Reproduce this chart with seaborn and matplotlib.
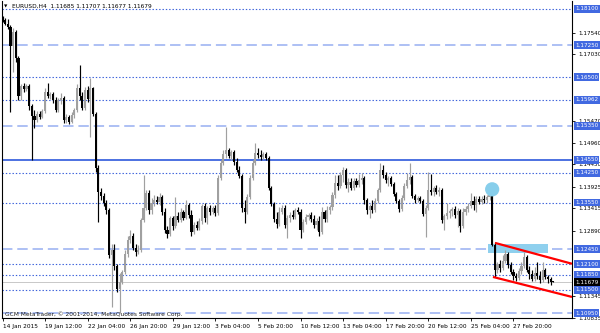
import numpy as np
import pandas as pd
import matplotlib
matplotlib.use("Agg")
import matplotlib.pyplot as plt
import seaborn as sns

# ---- data: EURUSD H4 candles ----
opens = [
    1.1789,1.1784,1.1775,1.1768,1.1723,1.1756,1.1695,1.1605,1.1629,1.1622,
    1.1629,1.1582,1.1558,1.1549,1.1563,1.1556,1.1570,1.1615,1.1605,1.1610,
    1.1596,1.1573,1.1596,1.1601,1.1549,1.1556,1.1544,1.1561,1.1573,1.1624,
    1.1605,1.1577,1.1619,1.1598,1.1624,1.1563,1.1436,1.1380,1.1370,1.1354,
    1.1338,1.1232,1.1243,1.1206,1.1152,1.1168,1.1192,1.1234,1.1267,1.1276,
    1.1248,1.1239,1.1243,1.1314,1.1342,1.1377,1.1338,1.1354,1.1361,1.1356,
    1.1368,1.1333,1.1291,1.1281,1.1319,1.1300,1.1323,1.1314,1.1333,1.1319,
    1.1349,1.1326,1.1286,1.1302,1.1295,1.1312,1.1347,1.1319,1.1342,1.1333,
    1.1342,1.1330,1.1413,1.1448,1.1469,1.1478,1.1464,1.1474,1.1450,1.1431,
    1.1417,1.1342,1.1333,1.1368,1.1413,1.1448,1.1471,1.1467,1.1462,1.1469,
    1.1460,1.1389,1.1352,1.1316,1.1305,1.1333,1.1342,1.1302,1.1319,1.1326,
    1.1321,1.1338,1.1333,1.1291,1.1309,1.1321,1.1326,1.1316,1.1302,1.1312,
    1.1286,1.1333,1.1316,1.1338,1.1345,1.1373,1.1401,1.1394,1.1420,1.1431,
    1.1396,1.1403,1.1389,1.1406,1.1396,1.1408,1.1413,1.1361,1.1338,1.1347,
    1.1338,1.1359,1.1384,1.1431,1.1420,1.1408,1.1413,1.1399,1.1375,1.1359,
    1.1340,1.1366,1.1394,1.1408,1.1415,1.1370,1.1361,1.1366,1.1359,1.1328,
    1.1342,1.1384,1.1380,1.1389,1.1380,1.1384,1.1314,1.1323,1.1330,1.1335,
    1.1340,1.1326,1.1335,1.1300,1.1333,1.1340,1.1347,1.1359,1.1349,1.1363,
    1.1356,1.1363,1.1361,1.1368,1.1373,1.1255,1.1197,1.1211,1.1201,1.1218,
    1.1234,1.1208,1.1192,1.1182,1.1178,1.1194,1.1206,1.1227,1.1197,1.1187,
    1.1175,1.1189,1.1182,1.1173,1.1197,1.1180,1.1175,1.11685,
]
highs = [
    1.1793,1.1789,1.1786,1.1772,1.1765,1.1760,1.1699,1.1634,1.1636,1.1634,
    1.1634,1.1587,1.1573,1.1570,1.1570,1.1575,1.1624,1.1636,1.1615,1.1615,
    1.1603,1.1601,1.1612,1.1605,1.1563,1.1561,1.1568,1.1577,1.1634,1.1678,
    1.1615,1.1627,1.1629,1.1648,1.1627,1.1568,1.1443,1.1389,1.1377,1.1361,
    1.1342,1.1258,1.1258,1.1211,1.1189,1.1197,1.1243,1.1276,1.1291,1.1283,
    1.1258,1.1255,1.1319,1.1420,1.1384,1.1384,1.1366,1.1373,1.1370,1.1377,
    1.1373,1.1342,1.1300,1.1323,1.1323,1.1368,1.1333,1.1342,1.1338,1.1361,
    1.1354,1.1338,1.1309,1.1312,1.1319,1.1352,1.1354,1.1347,1.1349,1.1347,
    1.1349,1.1420,1.1455,1.1478,1.1533,1.1483,1.1478,1.1478,1.1460,1.1441,
    1.1422,1.1361,1.1375,1.1420,1.1455,1.1495,1.1483,1.1478,1.1474,1.1474,
    1.1464,1.1394,1.1356,1.1333,1.1345,1.1349,1.1349,1.1326,1.1333,1.1338,
    1.1342,1.1345,1.1340,1.1316,1.1328,1.1330,1.1333,1.1326,1.1319,1.1323,
    1.1345,1.1338,1.1347,1.1349,1.1380,1.1420,1.1420,1.1427,1.1439,1.1436,
    1.1413,1.1413,1.1413,1.1413,1.1422,1.1424,1.1417,1.1366,1.1352,1.1361,
    1.1366,1.1389,1.1448,1.1443,1.1427,1.1417,1.1417,1.1403,1.1380,1.1363,
    1.1373,1.1401,1.1424,1.1448,1.1420,1.1375,1.1370,1.1370,1.1363,1.1349,
    1.1427,1.1422,1.1394,1.1396,1.1392,1.1389,1.1328,1.1354,1.1340,1.1345,
    1.1347,1.1342,1.1340,1.1342,1.1347,1.1354,1.1377,1.1370,1.1370,1.1370,
    1.1370,1.1373,1.1373,1.1377,1.1377,1.1262,1.1215,1.1220,1.1232,1.1243,
    1.1239,1.1215,1.1199,1.1189,1.1201,1.1215,1.1239,1.1232,1.1206,1.1197,
    1.1204,1.1215,1.1194,1.1215,1.1201,1.1185,1.1180,1.11707,
]
lows = [
    1.1779,1.1772,1.1763,1.1568,1.1662,1.1685,1.1596,1.1596,1.1615,1.1617,
    1.1573,1.1455,1.1530,1.1544,1.1551,1.1554,1.1565,1.1601,1.1598,1.1589,
    1.1568,1.1568,1.1587,1.1542,1.1542,1.1540,1.1542,1.1554,1.1568,1.1596,
    1.1573,1.1573,1.1591,1.1509,1.1558,1.1427,1.1309,1.1361,1.1347,1.1328,
    1.1225,1.1110,1.1197,1.1145,1.1095,1.1164,1.1187,1.1227,1.1260,1.1243,
    1.1229,1.1234,1.1239,1.1309,1.1338,1.1328,1.1328,1.1347,1.1352,1.1349,
    1.1326,1.1283,1.1272,1.1276,1.1291,1.1295,1.1309,1.1309,1.1314,1.1316,
    1.1319,1.1276,1.1281,1.1291,1.1291,1.1305,1.1309,1.1305,1.1326,1.1328,
    1.1323,1.1326,1.1408,1.1443,1.1460,1.1460,1.1455,1.1443,1.1427,1.1413,
    1.1333,1.1307,1.1328,1.1363,1.1408,1.1443,1.1460,1.1455,1.1457,1.1455,
    1.1384,1.1347,1.1309,1.1295,1.1300,1.1328,1.1295,1.1272,1.1309,1.1316,
    1.1316,1.1328,1.1272,1.1286,1.1305,1.1314,1.1309,1.1295,1.1291,1.1276,
    1.1281,1.1309,1.1309,1.1328,1.1338,1.1366,1.1384,1.1389,1.1403,1.1389,
    1.1380,1.1384,1.1384,1.1392,1.1392,1.1399,1.1352,1.1328,1.1319,1.1330,
    1.1333,1.1354,1.1380,1.1413,1.1401,1.1394,1.1394,1.1370,1.1354,1.1333,
    1.1335,1.1361,1.1389,1.1399,1.1366,1.1354,1.1356,1.1354,1.1323,1.1274,
    1.1338,1.1373,1.1370,1.1375,1.1370,1.1307,1.1291,1.1316,1.1319,1.1323,
    1.1319,1.1298,1.1286,1.1295,1.1326,1.1333,1.1342,1.1338,1.1333,1.1352,
    1.1352,1.1354,1.1354,1.1361,1.1253,1.1180,1.1189,1.1192,1.1197,1.1213,
    1.1201,1.1187,1.1173,1.1171,1.1173,1.1187,1.1201,1.1192,1.1175,1.1171,
    1.1171,1.1175,1.1166,1.1168,1.1175,1.1166,1.1161,1.11677,
]
closes = [
    1.1784,1.1775,1.1768,1.1723,1.1756,1.1695,1.1605,1.1629,1.1622,1.1629,
    1.1582,1.1558,1.1549,1.1563,1.1556,1.1570,1.1615,1.1605,1.1610,1.1596,
    1.1573,1.1596,1.1601,1.1549,1.1556,1.1544,1.1561,1.1573,1.1624,1.1605,
    1.1577,1.1619,1.1598,1.1624,1.1563,1.1436,1.1380,1.1370,1.1354,1.1338,
    1.1232,1.1243,1.1206,1.1152,1.1168,1.1192,1.1234,1.1267,1.1276,1.1248,
    1.1239,1.1243,1.1314,1.1342,1.1377,1.1338,1.1354,1.1361,1.1356,1.1368,
    1.1333,1.1291,1.1281,1.1319,1.1300,1.1323,1.1314,1.1333,1.1319,1.1349,
    1.1326,1.1286,1.1302,1.1295,1.1312,1.1347,1.1319,1.1342,1.1333,1.1342,
    1.1330,1.1413,1.1448,1.1469,1.1478,1.1464,1.1474,1.1450,1.1431,1.1417,
    1.1342,1.1333,1.1368,1.1413,1.1448,1.1471,1.1467,1.1462,1.1469,1.1460,
    1.1389,1.1352,1.1316,1.1305,1.1333,1.1342,1.1302,1.1319,1.1326,1.1321,
    1.1338,1.1333,1.1291,1.1309,1.1321,1.1326,1.1316,1.1302,1.1312,1.1286,
    1.1333,1.1316,1.1338,1.1345,1.1373,1.1401,1.1394,1.1420,1.1431,1.1396,
    1.1403,1.1389,1.1406,1.1396,1.1408,1.1413,1.1361,1.1338,1.1347,1.1338,
    1.1359,1.1384,1.1431,1.1420,1.1408,1.1413,1.1399,1.1375,1.1359,1.1340,
    1.1366,1.1394,1.1408,1.1415,1.1370,1.1361,1.1366,1.1359,1.1328,1.1342,
    1.1384,1.1380,1.1389,1.1380,1.1384,1.1314,1.1323,1.1330,1.1335,1.1340,
    1.1326,1.1335,1.1300,1.1333,1.1340,1.1347,1.1359,1.1349,1.1363,1.1356,
    1.1363,1.1361,1.1368,1.1373,1.1255,1.1197,1.1211,1.1201,1.1218,1.1234,
    1.1208,1.1192,1.1182,1.1178,1.1194,1.1206,1.1227,1.1197,1.1187,1.1175,
    1.1189,1.1182,1.1173,1.1197,1.1180,1.1175,1.1168,1.11679,
]

xtick_bars = [0, 16, 32, 48, 64, 80, 96, 112, 128, 144, 160, 176, 192]
xtick_labels = ["14 Jan 2015", "19 Jan 12:00", "22 Jan 04:00", "26 Jan 20:00",
                "29 Jan 12:00", "3 Feb 04:00", "5 Feb 20:00", "10 Feb 12:00",
                "13 Feb 04:00", "17 Feb 20:00", "20 Feb 12:00", "25 Feb 04:00",
                "27 Feb 20:00"]

levels_dotted = [1.18100, 1.16500, 1.15962, 1.14250, 1.13550, 1.12100, 1.11850, 1.11500]
levels_dashed = [1.17250, 1.15350, 1.12450, 1.10950]
levels_solid = [1.14550]
last_price = 1.11679
price_ticks = [1.17540, 1.17030, 1.15470, 1.14960, 1.14450, 1.13925,
               1.13415, 1.12890, 1.11345, 1.10835]

# drawn objects (bar index / price)
upper_line_x, upper_line_y = [185.1, 214.0], [1.1260, 1.1211]
lower_line_x, lower_line_y = [184.3, 214.0], [1.1180, 1.1133]
zone_x, zone_y = [182.4, 205.0], [1.1236, 1.1258]
circle_x, circle_y = [184.0], [1.1386]

title_text = "EURUSD,H4  1.11685 1.11707 1.11677 1.11679"
footer_text = "GCM MetaTrader, \u00a9 2001-2014, MetaQuotes Software Corp."

# ---- figure ----
sns.set_theme(style="white")
plt.rcParams['font.family'] = ['DejaVu Sans']
plt.rcParams['lines.scale_dashes'] = False

df = pd.DataFrame({"o": opens, "h": highs, "l": lows, "c": closes})
df["x"] = np.arange(len(df))
df["bull"] = df["c"] >= df["o"]
df["color"] = np.where(df["bull"], "#A0A0A0", "#000000")
df["bottom"] = df[["o", "c"]].min(axis=1)
df["height"] = (df["c"] - df["o"]).abs().clip(lower=0.00016)

fig = plt.figure(figsize=(6.0, 3.33), dpi=100)
ax = fig.add_axes([2/600, 15/333, 570/600, 317/333])
ax.set_facecolor("white")

# horizontal levels
for y in levels_dotted:
    ax.axhline(y, color="#3A60DA", lw=0.8, dashes=(1.0, 1.4), zorder=1)
for y in levels_dashed:
    ax.axhline(y, color="#A0B5F2", lw=1.2, dashes=(7.5, 3.5), zorder=1)
for y in levels_solid:
    ax.axhline(y, color="#3E66DE", lw=1.3, zorder=1)
ax.axhline(last_price, color="#C8C8C8", lw=0.7, zorder=1)

# zone rectangle
ax.fill_between(zone_x, zone_y[0], zone_y[1], color="#8FD0EE", lw=0, zorder=1.5)

# candles
ax.vlines(df["x"], df["l"], df["h"], colors=df["color"], lw=0.85, zorder=2)
ax.bar(df["x"], df["height"], bottom=df["bottom"], width=0.8,
       color=df["color"], linewidth=0, zorder=2.1)

# trend lines
ax.plot(upper_line_x, upper_line_y, color="#FF0000", lw=1.6, zorder=3, solid_capstyle="butt")
ax.plot(lower_line_x, lower_line_y, color="#FF0000", lw=1.6, zorder=3, solid_capstyle="butt")
sns.scatterplot(x=circle_x, y=circle_y, s=105, color="#87CEEB", edgecolor="none",
                ax=ax, zorder=3, legend=False)

ax.set_xlim(-0.19, 214.0)
ax.set_ylim(1.10837, 1.18287)

# spines
for side in ["left", "right", "bottom"]:
    ax.spines[side].set_visible(True)
    ax.spines[side].set_color("black")
    ax.spines[side].set_linewidth(0.8)
ax.spines["top"].set_visible(False)

# x ticks
ax.set_xticks(xtick_bars)
ax.set_xticklabels(xtick_labels, ha="left", fontsize=4.2, color="black")
ax.tick_params(axis="x", bottom=True, length=2.5, width=0.6, pad=1.5, color="black")

# y ticks on right
ax.yaxis.tick_right()
ax.set_yticks(price_ticks)
ax.set_yticklabels([f"{v:.5f}" for v in price_ticks], fontsize=4.1, color="black")
ax.tick_params(axis="y", right=True, left=False, length=2, width=0.6, pad=2.5, color="black")

# highlighted labels for levels
ytrans = ax.get_yaxis_transform()
for y in levels_dotted + levels_dashed + levels_solid:
    ax.text(1.0 + 3.0/570, y, f"{y:.5f}", transform=ytrans, ha="left", va="center",
            fontsize=4.1, color="white", clip_on=False, zorder=5,
            bbox=dict(boxstyle="square,pad=0.25", fc="#4169E1", ec="none"))
ax.text(1.0 + 3.0/570, last_price, f"{last_price:.5f}", transform=ytrans, ha="left",
        va="center", fontsize=4.1, color="white", clip_on=False, zorder=6,
        bbox=dict(boxstyle="square,pad=0.25", fc="black", ec="none"))

# header and footer text
fig.text(4/600, 1 - 6.5/333, "\u25bc", fontsize=3.2, va="center", ha="left", color="black")
fig.text(12/600, 1 - 6.5/333, title_text, fontsize=4.2, va="center", ha="left", color="black")
fig.text(5/600, 1 - 314/333, footer_text, fontsize=4.2, va="center", ha="left", color="#202020")

fig.savefig("out.png", dpi=100, facecolor="white")
